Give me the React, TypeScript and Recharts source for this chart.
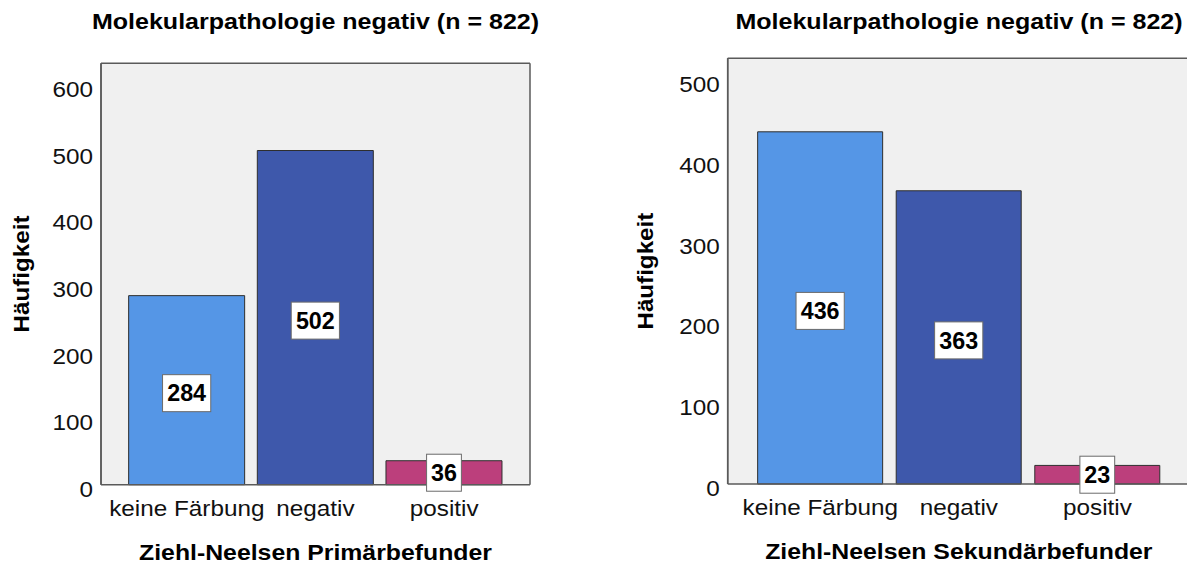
import React from 'react';
import { BarChart, Bar, XAxis, YAxis, CartesianGrid, Cell, LabelList, Label } from 'recharts';

// ---- data ----
const categories = ['keine Färbung', 'negativ', 'positiv'];
const primaerValues = [284, 502, 36];
const sekundaerValues = [436, 363, 23];
const primaerTicks = [0, 100, 200, 300, 400, 500, 600];
const sekundaerTicks = [0, 100, 200, 300, 400, 500];
const primaerMax = 633;
const sekundaerMax = 527;
const chartTitle = 'Molekularpathologie negativ (n = 822)';
const yAxisTitle = 'Häufigkeit';
const primaerXTitle = 'Ziehl-Neelsen Primärbefunder';
const sekundaerXTitle = 'Ziehl-Neelsen Sekundärbefunder';

// ---- styles ----
const barColors = ['#5596e6', '#3e58ab', '#bc3f7c'];
const FONT = '"Liberation Sans", Arial, sans-serif';
const FRAME = '#5a5a5a';

const primaerData = categories.map((name, i) => ({ name, value: primaerValues[i] }));
const sekundaerData = categories.map((name, i) => ({ name, value: sekundaerValues[i] }));

const YTick = (props: any) => {
  const { x, y, payload } = props;
  return (
    <g transform={`translate(${x},${y}) scale(1.13,1)`}>
      <text x={0} y={12} textAnchor="end" fontFamily={FONT} fontSize={21.5} fill="#111">
        {payload.value}
      </text>
    </g>
  );
};

const XTick = (props: any) => {
  const { x, y, payload } = props;
  return (
    <g transform={`translate(${x},${y}) scale(1.13,1)`}>
      <text x={0} y={31.3} textAnchor="middle" fontFamily={FONT} fontSize={21.5} fill="#111">
        {payload.value}
      </text>
    </g>
  );
};

const renderValueBox = (props: any) => {
  const { x, y, width, height, value } = props;
  const text = String(value);
  const boxW = text.length * 13.4 + 8;
  const boxH = 37;
  const h = Number(height);
  const cx = Number(x) + Number(width) / 2;
  const cy = Number(y) + h / 2 + (h > 40 ? 3 : 0);
  return (
    <g>
      <rect x={cx - boxW / 2} y={cy - boxH / 2} width={boxW} height={boxH} fill="#ffffff" stroke="#6b6b6b" strokeWidth={1} />
      <text x={cx} y={cy + 8.3} textAnchor="middle" fontFamily={FONT} fontWeight="bold" fontSize={23.3} fill="#000">
        {text}
      </text>
    </g>
  );
};

type PanelProps = {
  data: { name: string; value: number }[];
  ticks: number[];
  max: number;
  xTitle: string;
  width: number;
  margin: { top: number; right: number; bottom: number; left: number };
  yAxisWidth: number;
  xPad: number;
  gap: number;
  yTitleOffset: number;
};

const Panel = ({ data, ticks, max, xTitle, width, margin, yAxisWidth, xPad, gap, yTitleOffset }: PanelProps) => (
  <BarChart width={width} height={566} data={data} margin={margin} barCategoryGap={gap}>
    <CartesianGrid
      fill="#f0f0f0"
      stroke={FRAME}
      strokeWidth={1.5}
      horizontalCoordinatesGenerator={({ offset }: any) => [offset.top]}
      verticalCoordinatesGenerator={({ offset }: any) => [offset.left, offset.left + offset.width]}
    />
    <XAxis
      dataKey="name"
      type="category"
      height={60}
      padding={{ left: xPad, right: xPad }}
      tickLine={false}
      tickSize={0}
      tickMargin={0}
      interval={0}
      axisLine={{ stroke: FRAME, strokeWidth: 1.5 }}
      tick={(p: any) => <XTick {...p} />}
    >
      <Label
        content={(p: any) => {
          const vb = p.viewBox || {};
          const cx = vb.x + vb.width / 2;
          return (
            <g transform={`translate(${cx},${vb.y + 74.8}) scale(1.16,1)`}>
              <text x={0} y={0} textAnchor="middle" fontFamily={FONT} fontWeight="bold" fontSize={21.4} fill="#000">
                {xTitle}
              </text>
            </g>
          );
        }}
      />
    </XAxis>
    <YAxis
      type="number"
      domain={[0, max]}
      ticks={ticks}
      width={yAxisWidth}
      tickLine={false}
      tickSize={0}
      tickMargin={8}
      axisLine={{ stroke: FRAME, strokeWidth: 1.5 }}
      tick={(p: any) => <YTick {...p} />}
    >
      <Label
        content={(p: any) => {
          const vb = p.viewBox || {};
          const cy = vb.y + vb.height / 2;
          return (
            <g transform={`translate(${vb.x + yTitleOffset},${cy}) rotate(-90) scale(1.13,1)`}>
              <text x={0} y={0} textAnchor="middle" fontFamily={FONT} fontWeight="bold" fontSize={21.4} fill="#000">
                {yAxisTitle}
              </text>
            </g>
          );
        }}
      />
    </YAxis>
    <Bar dataKey="value" isAnimationActive={false} stroke="#2e2e2e" strokeWidth={1}>
      {data.map((d, i) => (
        <Cell key={d.name} fill={barColors[i]} />
      ))}
      <LabelList dataKey="value" content={renderValueBox} />
    </Bar>
  </BarChart>
);

export default function App() {
  return (
    <div style={{ position: 'fixed', left: 0, top: 0, width: 1187, height: 566, overflow: 'hidden', background: '#ffffff' }}>
      <div style={{ position: 'absolute', left: 0, top: 0 }}>
        <Panel
          data={primaerData}
          ticks={primaerTicks}
          max={primaerMax}
          xTitle={primaerXTitle}
          width={540}
          margin={{ top: 63.3, right: 10, bottom: 21.3, left: 5 }}
          yAxisWidth={96}
          xPad={21.5}
          gap={6.15}
          yTitleOffset={23.6}
        />
      </div>
      <div style={{ position: 'absolute', left: 600, top: 0 }}>
        <Panel
          data={sekundaerData}
          ticks={sekundaerTicks}
          max={sekundaerMax}
          xTitle={sekundaerXTitle}
          width={600}
          margin={{ top: 58.3, right: 10, bottom: 22, left: 5 }}
          yAxisWidth={122.7}
          xPad={23.3}
          gap={6.65}
          yTitleOffset={48}
        />
      </div>
      <svg width={1187} height={566} style={{ position: 'absolute', left: 0, top: 0, pointerEvents: 'none' }}>
        <g transform="translate(315.5,29.3) scale(1.17,1)">
          <text x={0} y={0} textAnchor="middle" fontFamily={FONT} fontWeight="bold" fontSize={21.4} fill="#000">
            {chartTitle}
          </text>
        </g>
        <g transform="translate(959,29.3) scale(1.17,1)">
          <text x={0} y={0} textAnchor="middle" fontFamily={FONT} fontWeight="bold" fontSize={21.4} fill="#000">
            {chartTitle}
          </text>
        </g>
      </svg>
    </div>
  );
}
